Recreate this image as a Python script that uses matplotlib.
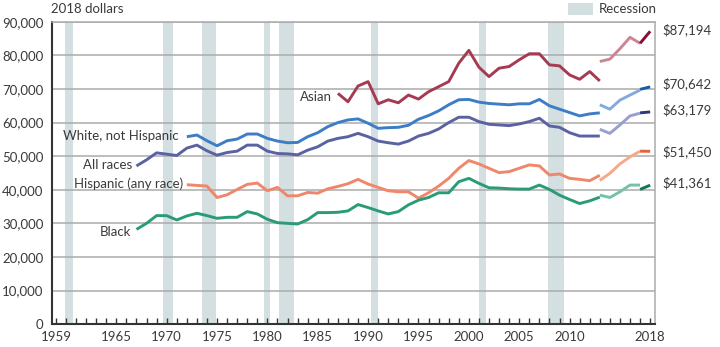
import matplotlib.pyplot as plt
from matplotlib.patches import Rectangle

plt.rcParams['font.family'] = ['Lato', 'DejaVu Sans']

# recession shading (start, end) in years
recessions = [(1959.9, 1960.7), (1969.6, 1970.6), (1973.5, 1974.9), (1979.7, 1980.3),
              (1981.2, 1982.6), (1990.3, 1991.0), (2001.0, 2001.7), (2007.9, 2009.4)]

# --- All races
all_years = list(range(1967, 2014))
all_vals = [47100, 48900, 51000, 50600, 50200, 52400, 53300, 51600, 50300, 51100,
            51500, 53300, 53300, 51500, 50800, 50700, 50400, 51800, 52800, 54500,
            55300, 55800, 56800, 55800, 54500, 54000, 53600, 54500, 56000, 56800,
            58100, 60000, 61600, 61600, 60300, 59500, 59300, 59100, 59600, 60300,
            61300, 59000, 58600, 57000, 56000, 56000, 56000]
all_years2 = [2013, 2014, 2015, 2016, 2017]
all_vals2 = [58000, 56800, 59300, 62000, 62800]
all_vals3 = [62900, 63179]

# --- White, not Hispanic
white_years = list(range(1972, 2014))
white_vals = [55800, 56300, 54600, 53100, 54600, 55100, 56600, 56600, 55300, 54500,
              54000, 54100, 55800, 57000, 58800, 60000, 60800, 61100, 59800, 58300,
              58500, 58600, 59200, 61000, 62100, 63500, 65300, 66800, 66900, 66100,
              65700, 65500, 65300, 65600, 65600, 66900, 65000, 64000, 63000, 62000,
              62600, 62900]
white_vals2 = [65300, 64000, 66700, 68200, 69700]
white_vals3 = [69900, 70642]

# --- Asian
asian_years = list(range(1987, 2014))
asian_vals = [68700, 66200, 70900, 72200, 65600, 66800, 65900, 68200, 67000, 69200,
              70700, 72200, 77700, 81500, 76500, 73700, 76200, 76700, 78700, 80500,
              80500, 77200, 76900, 74200, 72900, 75200, 72400]
asian_vals2 = [78200, 78900, 82000, 85400, 83600]
asian_vals3 = [83600, 87194]

# --- Hispanic (any race)
hisp_years = list(range(1972, 2014))
hisp_vals = [41500, 41300, 41100, 37700, 38500, 40100, 41600, 42000, 39700, 40700,
             38200, 38200, 39200, 39000, 40300, 41000, 41800, 43100, 41700, 40700,
             39700, 39400, 39400, 37500, 39100, 41100, 43400, 46400, 48700, 47700,
             46400, 45100, 45400, 46400, 47400, 47100, 44400, 44700, 43400, 43100,
             42700, 44300]
hisp_vals2 = [42800, 44900, 47700, 49800, 51500]
hisp_vals3 = [51500, 51450]

# --- Black
black_years = list(range(1967, 2014))
black_vals = [28200, 30000, 32300, 32300, 31000, 32200, 33000, 32300, 31500, 31800,
              31800, 33500, 32800, 31200, 30200, 30000, 29800, 31100, 33200, 33200,
              33300, 33700, 35600, 34700, 33700, 32800, 33500, 35500, 36900, 37700,
              39100, 39100, 42400, 43400, 41900, 40600, 40500, 40300, 40200, 40200,
              41400, 40100, 38400, 37100, 35900, 36700, 37800]
black_vals2 = [38400, 37700, 39400, 41400, 41400]
black_vals3 = [40100, 41361]

years3 = [2017, 2018]

series = [
    (asian_years, asian_vals, asian_vals2, asian_vals3, ('#a53b52', '#cd8592', '#8a0d33')),
    (white_years, white_vals, white_vals2, white_vals3, ('#3c7dc6', '#82abdd', '#1d5aa5')),
    (all_years, all_vals, all_vals2, all_vals3, ('#5a62a3', '#9a9ed0', '#2e367e')),
    (hisp_years, hisp_vals, hisp_vals2, hisp_vals3, ('#f0866a', '#f5a88a', '#e5603e')),
    (black_years, black_vals, black_vals2, black_vals3, ('#2a9b77', '#75c3a5', '#137557')),
]

line_labels = [('Asian', 1986.4, 67600), ('White, not Hispanic', 1971.2, 56000),
               ('All races', 1966.6, 47400), ('Hispanic (any race)', 1971.6, 41700),
               ('Black', 1966.5, 27400)]
end_labels = ['$87,194', '$70,642', '$63,179', '$51,450', '$41,361']
end_pos = [87600, 71500, 63800, 51300, 42000]

fig = plt.figure(figsize=(7.2, 3.47), dpi=100)
ax = fig.add_axes([0.072, 0.066, 0.838, 0.871])

for a, b in recessions:
    ax.axvspan(a, b, color='#d3dfe0', lw=0, zorder=0)

for yrs, v1, v2, v3, cols in series:
    ax.plot(yrs, v1, color=cols[0], lw=2.1, zorder=3, solid_capstyle='butt')
    ax.plot(all_years2, v2, color=cols[1], lw=2.1, zorder=3, solid_capstyle='butt')
    ax.plot(years3, v3, color=cols[2], lw=2.1, zorder=3, solid_capstyle='butt')

for (txt, x, y) in line_labels:
    ax.text(x, y, txt, ha='right', va='center', fontsize=9.5, color='#3a3a3a')

for txt, y in zip(end_labels, end_pos):
    ax.text(1.012, y, txt, transform=ax.get_yaxis_transform(), ha='left', va='center',
            fontsize=9.5, color='#3a3a3a')

ax.set_xlim(1958.6, 2018.5)
ax.set_ylim(0, 90000)
ax.set_yticks(range(0, 90001, 10000))
ax.set_yticklabels(['0'] + [f'{v:,}' for v in range(10000, 90001, 10000)])
ax.set_xticks([1959, 1965, 1970, 1975, 1980, 1985, 1990, 1995, 2000, 2005, 2010, 2018])
ax.set_xticks(range(1959, 2019), minor=True)
ax.grid(axis='y', color='#ababab', lw=1.1, zorder=1)
ax.tick_params(axis='y', length=0, labelsize=9.5, labelcolor='#3a3a3a', pad=6)
ax.tick_params(axis='x', which='both', direction='in', length=4, width=1,
               color='#333333', labelsize=9.5, labelcolor='#3a3a3a', pad=5)
for s in ['left', 'bottom']:
    ax.spines[s].set_color('#333333')
    ax.spines[s].set_linewidth(1.5)
ax.spines['top'].set_color('#ababab')
ax.spines['right'].set_color('#ababab')
ax.spines['top'].set_linewidth(1.1)
ax.spines['right'].set_linewidth(1.1)

fig.text(0.071, 0.975, '2018 dollars', ha='left', va='center', fontsize=9.5, color='#3a3a3a')
fig.patches.append(Rectangle((0.789, 0.957), 0.034, 0.034, transform=fig.transFigure,
                             color='#d3dfe0', lw=0))
fig.text(0.831, 0.975, 'Recession', ha='left', va='center', fontsize=9.5, color='#3a3a3a')

fig.savefig('out.png', dpi=100)
